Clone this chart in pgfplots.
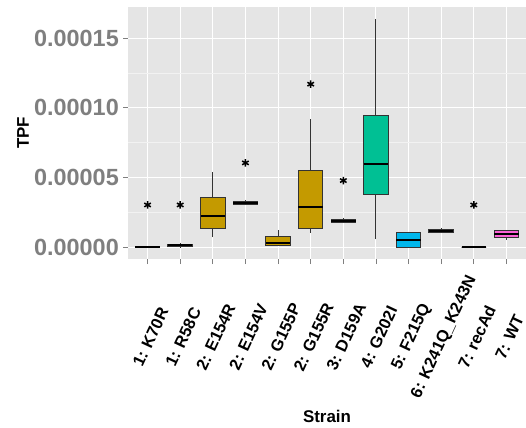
\documentclass[border=0pt]{standalone}
\usepackage{fontspec}
\setmainfont{Liberation Sans}
\usepackage{pgfplots}
\usepackage{pgfplotstable}
\usepgfplotslibrary{statistics}
\pgfplotsset{compat=1.18}
\definecolor{panelgray}{HTML}{E5E5E5}
\definecolor{gridminor}{HTML}{F2F2F2}
\definecolor{tickgray}{HTML}{7F7F7F}
\definecolor{boxline}{HTML}{333333}
\definecolor{g1}{HTML}{F8766D}
\definecolor{g2}{HTML}{C49A00}
\definecolor{g3}{HTML}{53B400}
\definecolor{g4}{HTML}{00C094}
\definecolor{g5}{HTML}{00B6EB}
\definecolor{g6}{HTML}{A58AFF}
\definecolor{g7}{HTML}{FB61D7}

% TPF values in units of 1e-5
\pgfplotstableread{
pos lw lq med uq uw
1 0 0 0 0 0
2 0 0.04 0.12 0.20 0.32
3 0.70 1.34 2.27 3.54 5.36
4 3.06 3.06 3.18 3.30 3.40
5 0.09 0.14 0.29 0.77 1.22
6 1.03 1.31 2.89 5.50 9.18
7 1.77 1.77 1.89 2.01 2.10
8 0.55 3.78 5.95 9.42 16.36
9 0 0 0.53 1.03 1.12
10 1.03 1.03 1.15 1.27 1.36
11 0 0 0 0 0
12 0.50 0.70 0.91 1.17 1.20
}\boxdata

% significance asterisks (TPF in units of 1e-5)
\pgfplotstableread{
x y
1 3.03
2 3.03
4 6.05
6 11.70
7 4.78
11 3.03
}\stars

\newcommand{\bx}[2]{%
 \pgfplotstablegetelem{#1}{pos}\of\boxdata\let\vpos\pgfplotsretval
 \pgfplotstablegetelem{#1}{lw}\of\boxdata\let\vlw\pgfplotsretval
 \pgfplotstablegetelem{#1}{lq}\of\boxdata\let\vlq\pgfplotsretval
 \pgfplotstablegetelem{#1}{med}\of\boxdata\let\vmed\pgfplotsretval
 \pgfplotstablegetelem{#1}{uq}\of\boxdata\let\vuq\pgfplotsretval
 \pgfplotstablegetelem{#1}{uw}\of\boxdata\let\vuw\pgfplotsretval
 \edef\doplot{\noexpand\addplot[boxplot prepared={draw position=\vpos, lower whisker=\vlw, lower quartile=\vlq, median=\vmed, upper quartile=\vuq, upper whisker=\vuw}, fill=#2, draw=boxline, line width=1bp] coordinates {};}%
 \doplot}

\begin{document}
\begin{tikzpicture}
\path[use as bounding box] (0,0) rectangle (526bp,428bp);
\begin{axis}[
 at={(128bp,169bp)}, anchor=south west,
 width=398bp, height=252bp, scale only axis,
 xmin=0.4, xmax=12.6, ymin=-0.85, ymax=17.24,
 axis background/.style={fill=panelgray},
 axis line style={draw=none},
 xtick={1,2,3,4,5,6,7,8,9,10,11,12},
 xticklabels={1: K70R,1: R58C,2: E154R,2: E154V,2: G155P,2: G155R,3: D159A,4: G202I,5: F215Q,6: K241Q\_K243N,7: recAd,7: WT},
 ytick={0,5,10,15},
 yticklabels={0.00000,0.00005,0.00010,0.00015},
 minor ytick={2.5,7.5,12.5},
 grid=both,
 major grid style={white, line width=1.1bp},
 minor grid style={gridminor, line width=0.6bp},
 tick align=outside, major tick length=5bp, minor tick length=0pt,
 tick style={tickgray, line width=0.8bp},
 xtick pos=bottom, ytick pos=left,
 yticklabel style={font=\fontsize{23.5}{24}\selectfont\bfseries, text=tickgray, inner sep=0pt, anchor=east, xshift=-4bp},
 xticklabel style={font=\fontsize{16.5}{17}\selectfont\bfseries, text=black, inner sep=0pt, yshift=-73bp, xshift=3bp, rotate=65, anchor=center},
 ylabel={TPF}, xlabel={Strain},
 every axis y label/.style={at={(axis description cs:0,0.5)}, xshift=-105bp, rotate=90, anchor=center, font=\fontsize{17}{18}\selectfont\bfseries},
 every axis x label/.style={at={(axis description cs:0.5,0)}, yshift=-157bp, anchor=center, font=\fontsize{17}{18}\selectfont\bfseries},
 boxplot/draw direction=y,
 boxplot/box extend=0.75,
 boxplot/whisker extend=0,
 boxplot/every median/.style={draw=black, line width=2bp},
 boxplot/every whisker/.style={draw=boxline, line width=1bp},
 clip=false,
]
\bx{0}{g1}
\bx{1}{g1}
\bx{2}{g2}
\bx{3}{g2}
\bx{4}{g2}
\bx{5}{g2}
\bx{6}{g3}
\bx{7}{g4}
\bx{8}{g5}
\bx{9}{g6}
\bx{10}{g7}
\bx{11}{g7}
\addplot[only marks, mark=asterisk, mark size=3.8bp, mark options={line width=1.5bp, draw=black}] table[x=x,y=y] {\stars};
\end{axis}
\end{tikzpicture}
\end{document}
